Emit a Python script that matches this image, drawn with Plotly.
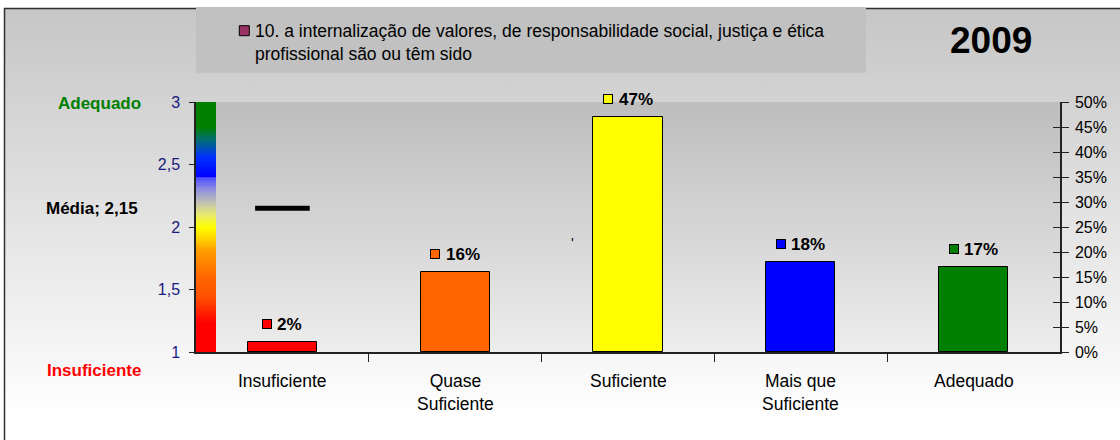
import base64
import numpy as np
import plotly.graph_objects as go

# data
categories = ["Insuficiente", "Quase<br>Suficiente", "Suficiente", "Mais que<br>Suficiente", "Adequado"]
shares = [2, 16, 47, 18, 17]
share_labels = ["2%", "16%", "47%", "18%", "17%"]
bar_colors = ["#ff0000", "#ff6600", "#ffff00", "#0000ff", "#008000"]
mean_score = 2.15
mean_label = "Média; 2,15"
score_ticks = [1, 1.5, 2, 2.5, 3]
score_tick_labels = ["1", "1,5", "2", "2,5", "3"]
pct_ticks = [0, 5, 10, 15, 20, 25, 30, 35, 40, 45, 50]
pct_tick_labels = ["0%", "5%", "10%", "15%", "20%", "25%", "30%", "35%", "40%", "45%", "50%"]
legend_text = ("10. a internalização de valores, de responsabilidade social, justiça e ética"
               "<br>profissional são ou têm sido")
year = "2009"

# page geometry (pixels)
W, H = 1120, 440
L, R, T, B = 196, 60, 102, 88
PW, PH = W - L - R, H - T - B
CAT_W = PW / 5
FONT = "Liberation Sans, Arial, sans-serif"


def paper_x(px):
    return (px - L) / PW


def paper_y(py):
    return (H - B - py) / PH


def gradient_uri(stops):
    stop_tags = "".join(f'<stop offset="{o}" stop-color="{c}"/>' for o, c in stops)
    svg = ('<svg xmlns="http://www.w3.org/2000/svg" width="10" height="100" preserveAspectRatio="none">'
           '<defs><linearGradient id="g" x1="0" y1="0" x2="0" y2="1">' + stop_tags +
           '</linearGradient></defs><rect width="10" height="100" fill="url(#g)"/></svg>')
    return "data:image/svg+xml;base64," + base64.b64encode(svg.encode()).decode()


fig = go.Figure()

# colour ramp strip on the score axis
ramp_scale = [
    [0.0, "#ff0000"], [0.115, "#ff0000"], [0.22, "#ff5000"], [0.30, "#ff6600"],
    [0.41, "#ffa000"], [0.45, "#ffd000"], [0.5, "#ffff00"], [0.55, "#e8e870"],
    [0.595, "#c4c4b0"], [0.65, "#9090e0"], [0.697, "#5050ff"], [0.70, "#0000ff"],
    [0.78, "#0030ff"], [0.85, "#007070"], [0.9, "#008000"], [1.0, "#008000"],
]
ramp_edges = np.linspace(score_ticks[0], score_ticks[-1], 201)
ramp_mid = (ramp_edges[:-1] + ramp_edges[1:]) / 2
fig.add_trace(go.Heatmap(
    x=[-0.5, -0.5 + 20 / CAT_W], y=ramp_edges, z=[[v] for v in ramp_mid],
    zmin=1, zmax=3, colorscale=ramp_scale, showscale=False, hoverinfo="skip",
))

# mean marker
fig.add_trace(go.Scatter(
    x=[0], y=[mean_score], mode="markers",
    marker=dict(symbol="line-ew", size=39, line=dict(width=5, color="black")),
    showlegend=False, hoverinfo="skip",
))

# bars on the percentage axis
fig.add_trace(go.Bar(
    x=list(range(len(shares))), y=shares, yaxis="y2", width=0.4,
    marker=dict(color=bar_colors, line=dict(color="black", width=1)),
    showlegend=False, hoverinfo="skip",
))

# keeps the crossing (inside) ticks of the right axis alive
fig.add_trace(go.Scatter(x=[None], y=[None], yaxis="y3", showlegend=False, hoverinfo="skip"))

images = [
    dict(source=gradient_uri([(0, "#c6c6c6"), (0.94, "#ffffff"), (1, "#ffffff")]),
         xref="paper", yref="paper", x=paper_x(4.5), y=paper_y(8.5),
         sizex=(1125 - 4.5) / PW, sizey=(445 - 8.5) / PH,
         xanchor="left", yanchor="top", sizing="stretch", layer="below"),
    dict(source=gradient_uri([(0, "#bdbdbd"), (1, "#ededed")]),
         xref="paper", yref="paper", x=0, y=1, sizex=1, sizey=1,
         xanchor="left", yanchor="top", sizing="stretch", layer="below"),
]

shapes = [
    dict(type="rect", xref="paper", yref="paper", layer="below",
         x0=paper_x(4.5), x1=paper_x(1130), y0=paper_y(455), y1=paper_y(8.5),
         line=dict(color="#303030", width=1.5), fillcolor="rgba(0,0,0,0)"),
    dict(type="rect", xref="paper", yref="paper", layer="below",
         x0=0, x1=paper_x(866), y0=paper_y(72.7), y1=paper_y(7),
         line=dict(width=0), fillcolor="#c1c1c1"),
    dict(type="rect", xref="paper", yref="paper",
         x0=paper_x(239.3), x1=paper_x(249.3), y0=paper_y(35.7), y1=paper_y(25.7),
         line=dict(color="black", width=1), fillcolor="#993366"),
]

annotations = [
    dict(text=legend_text, xref="paper", yref="paper", x=paper_x(253), y=paper_y(42.5),
         xanchor="left", yanchor="middle", align="left", showarrow=False,
         font=dict(size=17.5, color="black", family=FONT)),
    dict(text=f"<b>{year}</b>", xref="paper", yref="paper", x=paper_x(991), y=paper_y(40.7),
         xanchor="center", yanchor="middle", showarrow=False,
         font=dict(size=37, color="black", family=FONT)),
    dict(text="<b>Adequado</b>", xref="paper", yref="paper", x=paper_x(143), y=paper_y(103),
         xanchor="right", yanchor="middle", showarrow=False,
         font=dict(size=17, color="#008000", family=FONT)),
    dict(text=f"<b>{mean_label}</b>", xref="paper", yref="y", x=paper_x(140), y=mean_score,
         xanchor="right", yanchor="middle", showarrow=False,
         font=dict(size=17, color="black", family=FONT)),
    dict(text="<b>Insuficiente</b>", xref="paper", yref="paper", x=paper_x(142.5), y=paper_y(370),
         xanchor="right", yanchor="middle", showarrow=False,
         font=dict(size=17, color="#ff0000", family=FONT)),
    dict(text="'", xref="x", yref="y", x=1.68, y=1.87, showarrow=False,
         font=dict(size=14, color="black", family=FONT)),
]
for i, c in enumerate(categories):
    annotations.append(dict(
        text=c, xref="x", yref="paper", x=i, y=paper_y(369),
        xanchor="center", yanchor="top", showarrow=False,
        font=dict(size=17.5, color="black", family=FONT)))


# value labels: small coloured square + bold text, the pair centred over the bar top
def label_width(s):
    return sum(15.1 if c == "%" else 9.45 for c in s)


SQ, GAP, LIFT = 9, 6, 18
for i, (v, s, col) in enumerate(zip(shares, share_labels, bar_colors)):
    tw = label_width(s)
    g = SQ + GAP + tw
    annotations.append(dict(
        text=" ", xref="x", yref="y2", x=i, y=v, xshift=-g / 2 + SQ / 2, yshift=LIFT,
        width=SQ - 1, height=SQ - 1, borderpad=0, bgcolor=col,
        bordercolor="black", borderwidth=1, showarrow=False, font=dict(size=6)))
    annotations.append(dict(
        text=f"<b>{s}</b>", xref="x", yref="y2", x=i, y=v,
        xshift=-g / 2 + SQ + GAP + tw / 2, yshift=LIFT,
        showarrow=False, font=dict(size=17, color="black", family=FONT)))

fig.update_layout(
    width=W, height=H,
    margin=dict(l=L, r=R, t=T, b=B, pad=0),
    paper_bgcolor="white", plot_bgcolor="rgba(0,0,0,0)",
    font=dict(family=FONT, size=16, color="black"),
    showlegend=False,
    images=images, shapes=shapes, annotations=annotations,
    bargap=0,
    xaxis=dict(range=[-0.5, 4.5], tickmode="array", tickvals=[0.5, 1.5, 2.5, 3.5],
               showticklabels=False, ticks="outside", ticklen=8, tickcolor="#222",
               showline=True, linecolor="#222", linewidth=1.5,
               showgrid=False, zeroline=False, fixedrange=True),
    yaxis=dict(range=[1, 3], tickmode="array", tickvals=score_ticks, ticktext=score_tick_labels,
               ticks="outside", ticklen=5, tickcolor="#222", ticklabelstandoff=6,
               tickfont=dict(size=16, color="#1a1a80", family=FONT),
               showline=True, linecolor="#222", linewidth=1.5,
               showgrid=False, zeroline=False),
    yaxis2=dict(range=[0, 50], overlaying="y", side="right", tickmode="array",
                tickvals=pct_ticks, ticktext=pct_tick_labels,
                ticks="outside", ticklen=7, tickcolor="#222", ticklabelstandoff=3,
                tickfont=dict(size=16, color="black", family=FONT),
                showline=True, linecolor="#222", linewidth=1.5,
                showgrid=False, zeroline=False),
    yaxis3=dict(range=[0, 50], overlaying="y", side="right", tickmode="array",
                tickvals=pct_ticks, ticks="inside", ticklen=7, tickcolor="#222",
                showticklabels=False, showline=False, showgrid=False, zeroline=False),
)

# drop the default page margin so the figure sits at the window's top-left corner
fig.write_html("out.html", config={"displayModeBar": False},
               post_script="document.body.style.margin = '0';")
